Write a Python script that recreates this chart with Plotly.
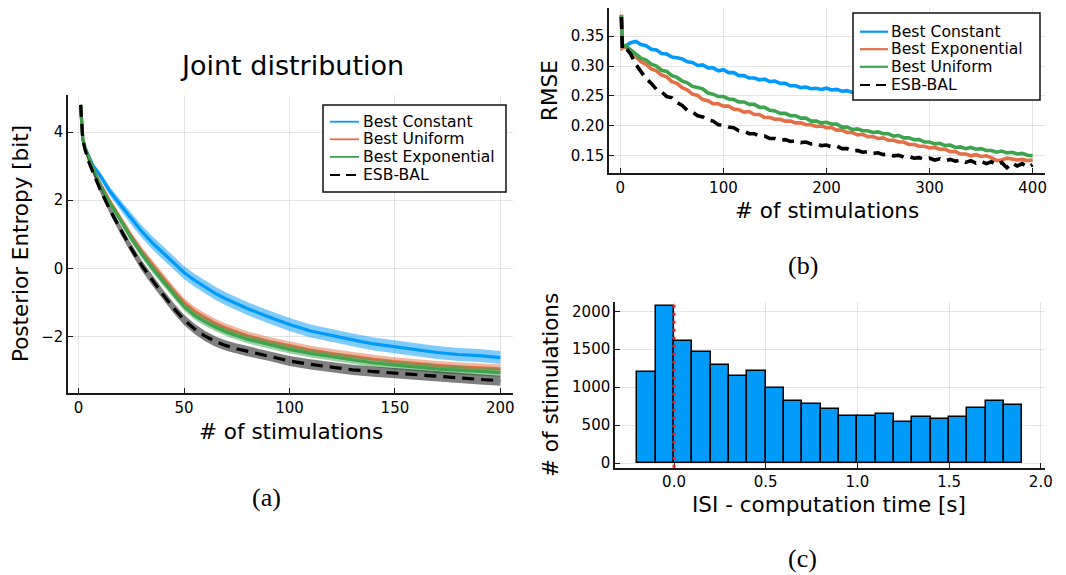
import plotly.graph_objects as go

W, H = 1066, 575


def px(x):
    return x / W


def py(y):
    return 1 - y / H


FONT = "DejaVu Sans"
SERIF = "Liberation Serif"

# ---------------- Panel (a): Joint distribution ----------------
n_a = [1, 2, 3, 5, 7, 10, 15, 20, 25, 30, 35, 40, 45, 50, 55, 60, 65, 70, 75, 80,
       90, 100, 110, 120, 130, 140, 150, 160, 170, 180, 190, 200]
a_const = [4.8, 3.8, 3.55, 3.25, 3.0, 2.75, 2.25, 1.85, 1.45, 1.08, 0.75, 0.45, 0.15, -0.12,
           -0.35, -0.55, -0.74, -0.9, -1.05, -1.18, -1.42, -1.65, -1.84, -1.98, -2.1,
           -2.22, -2.31, -2.4, -2.47, -2.53, -2.56, -2.62]
a_const_hw = [0.02, 0.03, 0.04, 0.06, 0.08, 0.1, 0.13, 0.15, 0.17, 0.18, 0.19, 0.19, 0.19,
              0.19, 0.19, 0.19, 0.19, 0.19, 0.19, 0.19, 0.19, 0.19, 0.19, 0.19, 0.19, 0.19,
              0.19, 0.19, 0.19, 0.19, 0.19, 0.19]
a_unif = [4.8, 3.8, 3.55, 3.2, 2.9, 2.52, 1.95, 1.45, 0.95, 0.5, 0.1, -0.28, -0.65, -1.0,
          -1.26, -1.45, -1.62, -1.76, -1.88, -1.98, -2.14, -2.28, -2.4, -2.5, -2.59,
          -2.67, -2.74, -2.8, -2.85, -2.89, -2.92, -2.95]
a_unif_hw = [0.02, 0.03, 0.04, 0.05, 0.06, 0.08, 0.09, 0.1, 0.11, 0.12, 0.13, 0.13, 0.13,
             0.13, 0.13, 0.13, 0.13, 0.13, 0.13, 0.13, 0.13, 0.13, 0.13, 0.13, 0.13, 0.13,
             0.13, 0.13, 0.13, 0.13, 0.13, 0.13]
a_expo = [4.8, 3.8, 3.55, 3.2, 2.9, 2.48, 1.9, 1.4, 0.88, 0.42, 0.0, -0.38, -0.75, -1.12,
          -1.38, -1.57, -1.73, -1.87, -1.98, -2.08, -2.23, -2.38, -2.5, -2.6, -2.7,
          -2.78, -2.84, -2.9, -2.95, -2.99, -3.03, -3.06]
a_expo_hw = [0.02, 0.03, 0.04, 0.05, 0.06, 0.08, 0.09, 0.1, 0.11, 0.12, 0.12, 0.12, 0.12,
             0.12, 0.12, 0.12, 0.12, 0.12, 0.12, 0.12, 0.12, 0.12, 0.12, 0.12, 0.12, 0.12,
             0.12, 0.12, 0.12, 0.12, 0.12, 0.12]
a_esb = [4.8, 3.8, 3.5, 3.1, 2.8, 2.35, 1.7, 1.12, 0.58, 0.08, -0.35, -0.77, -1.16, -1.51,
         -1.78, -1.99, -2.15, -2.27, -2.36, -2.43, -2.56, -2.72, -2.82, -2.9, -2.98,
         -3.03, -3.08, -3.13, -3.17, -3.22, -3.26, -3.3]
a_esb_hw = [0.02, 0.03, 0.04, 0.06, 0.07, 0.09, 0.11, 0.13, 0.14, 0.15, 0.15, 0.15, 0.15,
            0.15, 0.15, 0.15, 0.15, 0.15, 0.15, 0.15, 0.15, 0.15, 0.15, 0.15, 0.15, 0.15,
            0.15, 0.15, 0.15, 0.15, 0.15, 0.15]

# ---------------- Panel (b): RMSE ----------------
n_b = [1, 2] + list(range(5, 401, 5))
b_const = [0.385, 0.332, 0.334, 0.339, 0.341, 0.336, 0.334, 0.328, 0.327, 0.321, 0.320,
           0.315, 0.314, 0.312, 0.307, 0.306, 0.301, 0.302, 0.297, 0.297, 0.292, 0.294,
           0.289, 0.289, 0.284, 0.284, 0.280, 0.280, 0.277, 0.278, 0.274, 0.275, 0.271,
           0.271, 0.267, 0.267, 0.264, 0.265, 0.262, 0.263, 0.261, 0.263, 0.260, 0.261,
           0.258, 0.259, 0.256, 0.258, 0.256, 0.257, 0.255, 0.256, 0.254, 0.256, 0.254,
           0.255, 0.253, 0.255, 0.253, 0.254, 0.252, 0.254, 0.252, 0.253, 0.251, 0.253,
           0.251, 0.252, 0.251, 0.252, 0.250, 0.252, 0.250, 0.251, 0.250, 0.251, 0.249,
           0.251, 0.249, 0.250, 0.249, 0.250]
b_expo = [0.386, 0.330, 0.333, 0.324, 0.316, 0.307, 0.303, 0.295, 0.292, 0.285, 0.282,
          0.274, 0.271, 0.264, 0.260, 0.253, 0.251, 0.244, 0.242, 0.237, 0.237, 0.233,
          0.233, 0.228, 0.227, 0.223, 0.224, 0.219, 0.219, 0.214, 0.214, 0.211, 0.211,
          0.208, 0.208, 0.205, 0.205, 0.202, 0.202, 0.199, 0.200, 0.197, 0.197, 0.193,
          0.193, 0.189, 0.189, 0.185, 0.186, 0.182, 0.182, 0.179, 0.180, 0.176, 0.176,
          0.173, 0.173, 0.169, 0.169, 0.166, 0.166, 0.163, 0.164, 0.161, 0.161, 0.157,
          0.157, 0.153, 0.153, 0.150, 0.152, 0.149, 0.150, 0.147, 0.142, 0.143, 0.146,
          0.145, 0.143, 0.144, 0.142, 0.143]
b_unif = [0.385, 0.335, 0.334, 0.327, 0.321, 0.313, 0.310, 0.303, 0.300, 0.293, 0.291,
          0.284, 0.281, 0.275, 0.272, 0.266, 0.264, 0.262, 0.255, 0.253, 0.249, 0.249,
          0.245, 0.244, 0.240, 0.240, 0.236, 0.236, 0.231, 0.231, 0.226, 0.225, 0.221,
          0.221, 0.217, 0.217, 0.213, 0.213, 0.208, 0.208, 0.205, 0.206, 0.203, 0.203,
          0.198, 0.198, 0.194, 0.195, 0.192, 0.192, 0.189, 0.190, 0.187, 0.187, 0.183,
          0.184, 0.180, 0.180, 0.177, 0.177, 0.173, 0.173, 0.170, 0.171, 0.167, 0.168,
          0.164, 0.165, 0.162, 0.164, 0.161, 0.162, 0.159, 0.159, 0.156, 0.158, 0.155,
          0.156, 0.153, 0.154, 0.151, 0.150]
b_esb = [0.382, 0.328, 0.331, 0.320, 0.303, 0.291, 0.279, 0.271, 0.261, 0.257, 0.249,
         0.247, 0.239, 0.234, 0.226, 0.223, 0.217, 0.215, 0.210, 0.208, 0.202, 0.201,
         0.198, 0.197, 0.192, 0.191, 0.187, 0.187, 0.183, 0.183, 0.179, 0.179, 0.176,
         0.177, 0.174, 0.175, 0.172, 0.173, 0.170, 0.171, 0.167, 0.168, 0.165, 0.166,
         0.162, 0.162, 0.158, 0.159, 0.156, 0.157, 0.154, 0.155, 0.152, 0.153, 0.150,
         0.151, 0.148, 0.149, 0.146, 0.147, 0.144, 0.146, 0.143, 0.145, 0.142, 0.144,
         0.141, 0.143, 0.139, 0.142, 0.138, 0.141, 0.137, 0.140, 0.135, 0.139, 0.130,
         0.138, 0.133, 0.137, 0.131, 0.135]

# ---------------- Panel (c): histogram ----------------
bin_left = [-0.2, -0.1, 0.0, 0.1, 0.2, 0.3, 0.4, 0.5, 0.6, 0.7, 0.8, 0.9, 1.0, 1.1, 1.2,
            1.3, 1.4, 1.5, 1.6, 1.7, 1.8]
bin_width = 0.1
counts = [1193, 2075, 1605, 1469, 1289, 1145, 1219, 991, 816, 772, 715, 614, 614, 645,
          544, 605, 583, 605, 719, 820, 763]
threshold = 0.0

# ---------------- styling ----------------
BLUE, ORANGE, GREEN, BLACK = "#009AF9", "#E26F46", "#3DA44D", "#000000"
FILL = {BLUE: "rgba(0,154,249,0.5)", ORANGE: "rgba(226,111,70,0.5)",
        GREEN: "rgba(61,164,77,0.5)", BLACK: "rgba(0,0,0,0.5)"}
DASH = "12px,7px"

fig = go.Figure()

a_series = [
    ("Best Constant", a_const, a_const_hw, BLUE, "solid"),
    ("Best Uniform", a_unif, a_unif_hw, ORANGE, "solid"),
    ("Best Exponential", a_expo, a_expo_hw, GREEN, "solid"),
    ("ESB-BAL", a_esb, a_esb_hw, BLACK, DASH),
]
for name, vals, hw, col, dash in a_series:
    lo = [v - h for v, h in zip(vals, hw)]
    hi = [v + h for v, h in zip(vals, hw)]
    fig.add_trace(go.Scatter(x=n_a, y=lo, mode="lines", line=dict(width=0, color=col),
                             showlegend=False, hoverinfo="skip", xaxis="x", yaxis="y"))
    fig.add_trace(go.Scatter(x=n_a, y=hi, mode="lines", line=dict(width=0, color=col),
                             fill="tonexty", fillcolor=FILL[col], showlegend=False,
                             hoverinfo="skip", xaxis="x", yaxis="y"))
    fig.add_trace(go.Scatter(x=n_a, y=vals, mode="lines", name=name,
                             line=dict(color=col, width=3.2, dash=dash),
                             showlegend=False, xaxis="x", yaxis="y"))

b_series = [
    ("Best Constant", b_const, BLUE, "solid"),
    ("Best Exponential", b_expo, ORANGE, "solid"),
    ("Best Uniform", b_unif, GREEN, "solid"),
    ("ESB-BAL", b_esb, BLACK, DASH),
]
for name, vals, col, dash in b_series:
    fig.add_trace(go.Scatter(x=n_b, y=vals, mode="lines", name=name,
                             line=dict(color=col, width=3.6, dash=dash),
                             showlegend=False, xaxis="x2", yaxis="y2"))

fig.add_trace(go.Bar(x=[b + bin_width / 2 for b in bin_left], y=counts, width=bin_width,
                     marker=dict(color=BLUE, line=dict(color="black", width=1.5)),
                     showlegend=False, xaxis="x3", yaxis="y3"))

axis_common = dict(showline=True, linecolor="#1a1a1a", linewidth=1.5, mirror=False,
                   ticks="inside", ticklen=5, tickwidth=1, tickcolor="#1a1a1a",
                   showgrid=True, gridcolor="rgba(0,0,0,0.1)", gridwidth=1,
                   zeroline=False, automargin=False,
                   tickfont=dict(family=FONT, size=15, color="black"))

shapes = []
annotations = []

# red dotted threshold line
shapes.append(dict(type="line", xref="x3", yref="y3 domain", x0=threshold, x1=threshold,
                   y0=0, y1=1, line=dict(color="#ff1a1a", width=3, dash="3px,5px"),
                   layer="above"))


def add_legend(box, sample_x, text_x, rows, entries, lw):
    x0, y0, x1, y1 = box
    shapes.append(dict(type="rect", xref="paper", yref="paper", x0=px(x0), x1=px(x1),
                       y0=py(y1), y1=py(y0), line=dict(color="#111", width=1.5),
                       fillcolor="white", layer="above"))
    for (name, col, dash), ry in zip(entries, rows):
        d = "solid" if dash == "solid" else "10px,6px"
        shapes.append(dict(type="line", xref="paper", yref="paper", x0=px(sample_x[0]),
                           x1=px(sample_x[1]), y0=py(ry), y1=py(ry),
                           line=dict(color=col, width=lw, dash=d), layer="above"))
        annotations.append(dict(text=name, xref="paper", yref="paper", x=px(text_x),
                                y=py(ry), xanchor="left", yanchor="middle", showarrow=False,
                                font=dict(family=FONT, size=15.6, color="black")))


add_legend((323, 105, 506, 192), (330, 359), 361, [121.7, 139.3, 156.9, 175],
           [(s[0], s[3], s[4]) for s in a_series], 1.8)
add_legend((853, 13, 1040, 100), (860, 888), 889, [31.7, 49.2, 66.8, 85],
           [(s[0], s[2], s[3]) for s in b_series], 2.2)


def label(text, x, y, size=21, angle=0, family=FONT):
    annotations.append(dict(text=text, xref="paper", yref="paper", x=px(x), y=py(y),
                            xanchor="center", yanchor="middle", showarrow=False,
                            textangle=angle, font=dict(family=family, size=size,
                                                       color="black")))


label("Joint distribution", 292, 65, size=27)
label("# of stimulations", 291, 431, size=21.5)
label("Posterior Entropy [bit]", 20, 244, size=21.5, angle=-90)
label("# of stimulations", 827, 210, size=21.5)
label("RMSE", 549, 91, size=21.5, angle=-90)
label("ISI - computation time [s]", 829, 504, size=21.5)
label("# of stimulations", 550, 385, size=21.5, angle=-90)
label("(a)", 266, 497, size=26, family=SERIF)
label("(b)", 803, 265, size=26, family=SERIF)
label("(c)", 802, 558, size=26, family=SERIF)

fig.update_layout(
    template="none",
    width=W, height=H, margin=dict(l=0, r=0, t=0, b=0, pad=0),
    paper_bgcolor="white", plot_bgcolor="white", showlegend=False,
    font=dict(family=FONT, color="black"),
    xaxis=dict(domain=[px(68), px(513)], anchor="y", range=[-5, 206],
               tickvals=[0, 50, 100, 150, 200], **axis_common),
    yaxis=dict(domain=[py(393), py(95)], anchor="x", range=[-3.66, 5.09],
               tickvals=[-2, 0, 2, 4], **axis_common),
    xaxis2=dict(domain=[px(609), px(1045)], anchor="y2", range=[-11, 412],
                tickvals=[0, 100, 200, 300, 400], **axis_common),
    yaxis2=dict(domain=[py(173), py(8)], anchor="x2", range=[0.1213, 0.397],
                tickvals=[0.15, 0.20, 0.25, 0.30, 0.35], tickformat=".2f", **axis_common),
    xaxis3=dict(domain=[px(615), px(1045)], anchor="y3", range=[-0.322, 2.023],
                tickvals=[0, 0.5, 1.0, 1.5, 2.0], tickformat=".1f", **axis_common),
    yaxis3=dict(domain=[py(467.7), py(302)], anchor="x3", range=[-62, 2122],
                tickvals=[0, 500, 1000, 1500, 2000], **axis_common),
    shapes=shapes, annotations=annotations, bargap=0,
)

fig.write_html("out.html")
